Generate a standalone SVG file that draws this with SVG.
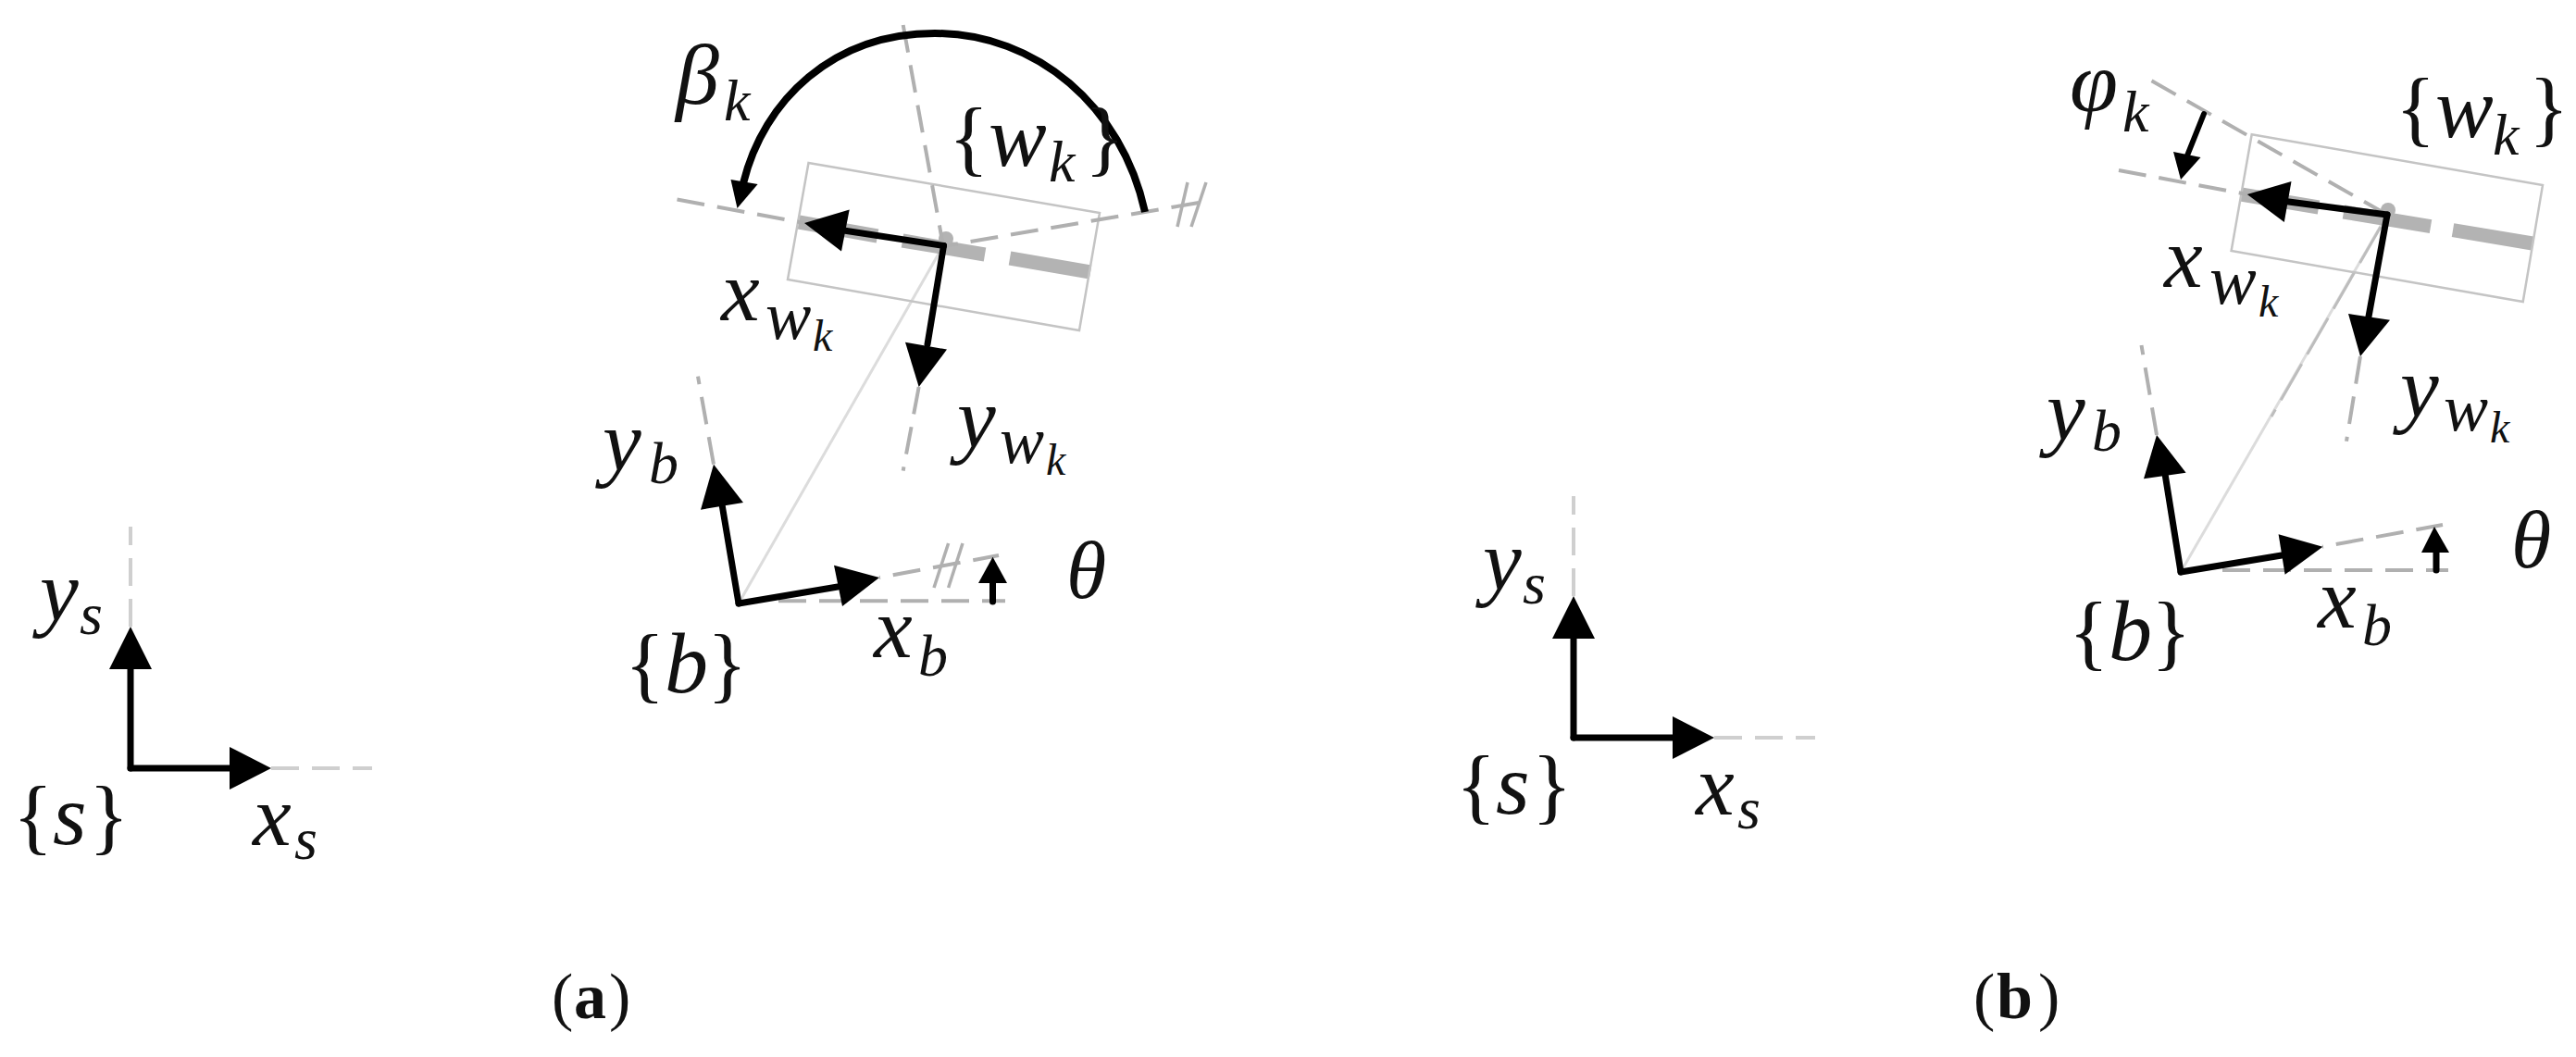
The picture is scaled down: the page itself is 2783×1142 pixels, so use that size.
<svg xmlns="http://www.w3.org/2000/svg" width="2783" height="1142" viewBox="0 0 2783 1142">
<style>
text{font-family:"Liberation Serif","Times New Roman",serif;fill:#111;}
.m{font-style:italic;font-size:94px;}
.th{font-style:italic;font-size:88px;}
.s{font-style:italic;font-size:64px;}
.t{font-style:italic;font-size:48px;}
.b{font-size:90px;}
.cap{font-size:70px;}
.capb{font-size:70px;font-weight:bold;}
line,path{fill:none;}
.ax{stroke:#000;stroke-width:7;stroke-linecap:round;}
.hd{fill:#000;stroke:none;}
.da{stroke:#b0b0b0;stroke-width:4;stroke-dasharray:30 14;}
.ds{stroke:#cfcfcf;stroke-width:4;stroke-dasharray:30 14;}
.hs{stroke:#b0b0b0;stroke-width:3.5;}
.rc{fill:none;stroke:#c4c4c4;stroke-width:2.5;}
.wh{stroke:#b3b3b3;stroke-width:15;}
.ln{stroke:#dcdcdc;stroke-width:3;}
.arc{stroke:#000;stroke-width:8;fill:none;}
</style>
<rect width="2783" height="1142" fill="#fff"/>

<g id="connectors-a">
<line class="ln" x1="798" y1="652" x2="1019" y2="265.5"/>
<line class="wh" x1="863" y1="240" x2="948" y2="255"/>
<line class="wh" x1="975" y1="260" x2="1064" y2="275"/>
<line class="wh" x1="1091" y1="279" x2="1178" y2="294"/>
<circle cx="1022" cy="258" r="8" fill="#b3b3b3"/>
<polygon class="rc" points="873.5,176 1188,230 1166,357 851,302"/>
<line class="da" x1="731.5" y1="215.5" x2="869" y2="241"/>
<line class="da" x1="1019" y1="266" x2="1307" y2="217" stroke-dashoffset="-30"/>
<line class="da" x1="975.7" y1="27" x2="1019" y2="266"/>
<line class="da" x1="992.7" y1="418" x2="975.7" y2="508.6"/>
<line class="hs" x1="1283" y1="197" x2="1272" y2="245"/>
<line class="hs" x1="1303" y1="197" x2="1287" y2="245"/>
<path class="arc" d="M1237 229C1212 115 1120 36 1010 36C900 36 825 108 803 198"/>
<polygon class="hd" points="789.5,194 818.6,199 796.5,225"/>
<line class="ax" x1="1019.5" y1="265.5" x2="905" y2="248"/>
<polygon class="hd" points="869,241 917.7,226.5 909,271.4"/>
<line class="ax" x1="1019.5" y1="265.5" x2="1002" y2="372"/>
<polygon class="hd" points="992.7,418 978,369.7 1023,377.6"/>
<line class="da" x1="771" y1="501.7" x2="754" y2="406.7"/>
<line class="da" x1="841" y1="649.3" x2="1086" y2="649.3"/>
<line class="da" x1="950" y1="624" x2="1079" y2="600" stroke-dashoffset="-15"/>
<line class="hs" x1="1024.6" y1="587" x2="1009" y2="635"/>
<line class="hs" x1="1040" y1="587" x2="1024.6" y2="635"/>
<line class="ax" x1="798" y1="652" x2="780" y2="545"/>
<polygon class="hd" points="771,501.7 757,550.7 803,543"/>
<line class="ax" x1="798" y1="652" x2="905" y2="634"/>
<polygon class="hd" points="950,624 901,610.7 910,655"/>
<line class="ax" x1="1072.5" y1="650" x2="1072.5" y2="628"/>
<polygon class="hd" points="1072.5,601.7 1057,630 1088,630"/>
<line class="ds" x1="293" y1="830" x2="402" y2="830"/>
<line class="ds" x1="141" y1="677" x2="141" y2="569"/>
<line class="ax" x1="141" y1="830" x2="141" y2="722"/>
<line class="ax" x1="141" y1="830" x2="250" y2="830"/>
<polygon class="hd" points="141,677 118,723 164,723"/>
<polygon class="hd" points="293,830 248,807 248,853"/>
</g>

<g id="connectors-b">
<line class="ln" x1="2356" y1="618" x2="2579" y2="232"/>
<line x1="2572" y1="245" x2="2454" y2="450" stroke="#bdbdbd" stroke-width="3" stroke-dasharray="45 12"/>
<line class="wh" x1="2421" y1="210" x2="2505" y2="224"/>
<line class="wh" x1="2532" y1="229" x2="2626" y2="244.6"/>
<line class="wh" x1="2650" y1="248.6" x2="2736" y2="263"/>
<circle cx="2580" cy="227" r="8" fill="#b3b3b3"/>
<polygon class="rc" points="2432.7,145.3 2747,200 2725.7,326 2410.6,271"/>
<line class="da" x1="2324.5" y1="87.3" x2="2579" y2="232"/>
<line class="da" x1="2289" y1="184" x2="2428" y2="210"/>
<line class="da" x1="2550" y1="385" x2="2535" y2="476.7"/>
<line class="ax" x1="2381" y1="123" x2="2363" y2="168" style="stroke-width:6"/>
<polygon class="hd" points="2356,194 2348,164 2377.5,170"/>
<line class="ax" x1="2579" y1="232" x2="2465" y2="217"/>
<polygon class="hd" points="2427.8,210 2475.5,196 2467.8,240"/>
<line class="ax" x1="2579" y1="232" x2="2559" y2="342"/>
<polygon class="hd" points="2550,385 2537,339 2582,345.7"/>
<line class="da" x1="2330" y1="470" x2="2313.5" y2="373"/>
<line class="da" x1="2401" y1="616" x2="2645" y2="616"/>
<line class="da" x1="2509" y1="590.7" x2="2639" y2="567" stroke-dashoffset="-15"/>
<line class="ax" x1="2356" y1="618" x2="2339" y2="512"/>
<polygon class="hd" points="2330,470 2316,517.3 2361.6,510.7"/>
<line class="ax" x1="2356" y1="618" x2="2465" y2="600"/>
<polygon class="hd" points="2509.4,590.7 2461.6,577.3 2468.6,620.7"/>
<line class="ax" x1="2632" y1="616" x2="2632" y2="595"/>
<polygon class="hd" points="2630,569 2616,597 2646,597"/>
<line class="ds" x1="1852" y1="797" x2="1961" y2="797"/>
<line class="ds" x1="1700" y1="644" x2="1700" y2="536"/>
<line class="ax" x1="1700" y1="797" x2="1700" y2="689"/>
<line class="ax" x1="1700" y1="797" x2="1809" y2="797"/>
<polygon class="hd" points="1700,644 1677,690 1723,690"/>
<polygon class="hd" points="1852,797 1807,774 1807,820"/>
</g>

<g id="labels-a">
<text><tspan class="m" x="43" y="670">y</tspan><tspan class="s" x="86" y="685">s</tspan></text>
<text><tspan class="b" x="14" y="912">{</tspan><tspan class="m" x="57" y="912">s</tspan><tspan class="b" x="96" y="912">}</tspan></text>
<text><tspan class="m" x="273" y="913">x</tspan><tspan class="s" x="318" y="928">s</tspan></text>
<text><tspan class="m" x="651" y="508">y</tspan><tspan class="s" x="701" y="522">b</tspan></text>
<text><tspan class="b" x="675" y="748">{</tspan><tspan class="m" x="718" y="748">b</tspan><tspan class="b" x="764" y="748">}</tspan></text>
<text><tspan class="m" x="944" y="710">x</tspan><tspan class="s" x="992" y="730">b</tspan></text>
<text class="th" x="1152" y="646">θ</text>
<text><tspan class="m" x="1034" y="483">y</tspan><tspan class="s" x="1080" y="500" style="font-size:72px">w</tspan><tspan class="t" x="1130" y="513">k</tspan></text>
<text><tspan class="m" x="779" y="346">x</tspan><tspan class="s" x="827" y="366" style="font-size:74px">w</tspan><tspan class="t" x="878" y="379">k</tspan></text>
<text><tspan class="m" x="730" y="112">β</tspan><tspan class="s" x="782" y="130">k</tspan></text>
<text><tspan class="b" x="1025" y="179">{</tspan><tspan class="m" x="1068" y="179">w</tspan><tspan class="s" x="1133" y="196">k</tspan><tspan class="b" x="1172" y="179">}</tspan></text>
<text><tspan x="596" y="1100" class="cap">(</tspan><tspan x="620" y="1100" class="capb">a</tspan><tspan x="658" y="1100" class="cap">)</tspan></text>
</g>

<g id="labels-b">
<text><tspan class="m" x="1602" y="637">y</tspan><tspan class="s" x="1645" y="652">s</tspan></text>
<text><tspan class="b" x="1573" y="879">{</tspan><tspan class="m" x="1616" y="879">s</tspan><tspan class="b" x="1655" y="879">}</tspan></text>
<text><tspan class="m" x="1832" y="880">x</tspan><tspan class="s" x="1877" y="895">s</tspan></text>
<text><tspan class="m" x="2211" y="475">y</tspan><tspan class="s" x="2260" y="487">b</tspan></text>
<text><tspan class="b" x="2235" y="713">{</tspan><tspan class="m" x="2278" y="713">b</tspan><tspan class="b" x="2324" y="713">}</tspan></text>
<text><tspan class="m" x="2504" y="678">x</tspan><tspan class="s" x="2552" y="697">b</tspan></text>
<text class="th" x="2713" y="613">θ</text>
<text><tspan class="m" x="2593" y="450">y</tspan><tspan class="s" x="2640" y="465" style="font-size:72px">w</tspan><tspan class="t" x="2690" y="478">k</tspan></text>
<text><tspan class="m" x="2338" y="310">x</tspan><tspan class="s" x="2387" y="328" style="font-size:76px">w</tspan><tspan class="t" x="2440" y="342">k</tspan></text>
<text><tspan class="m" x="2236" y="120">φ</tspan><tspan class="s" x="2293" y="142">k</tspan></text>
<text><tspan class="b" x="2588" y="147">{</tspan><tspan class="m" x="2631" y="148">w</tspan><tspan class="s" x="2693" y="167">k</tspan><tspan class="b" x="2732" y="147">}</tspan></text>
<text><tspan x="2132" y="1100" class="cap">(</tspan><tspan x="2157" y="1100" class="capb">b</tspan><tspan x="2202" y="1100" class="cap">)</tspan></text>
</g>
</svg>
